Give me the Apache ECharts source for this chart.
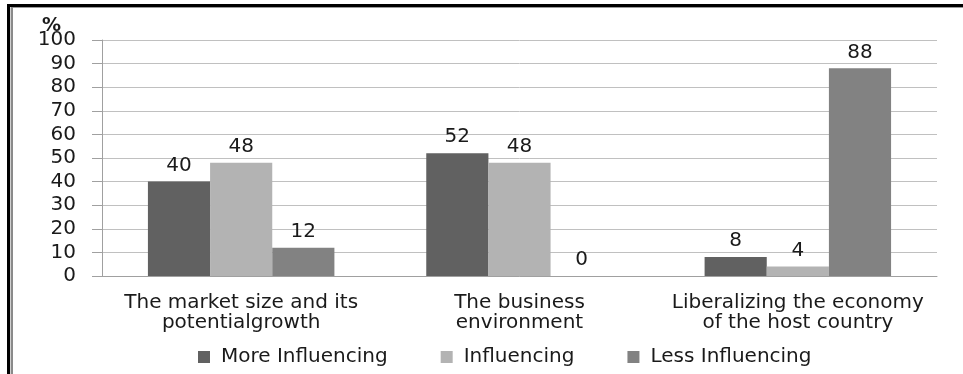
<!DOCTYPE html>
<html>
<head>
<meta charset="utf-8">
<script src="https://cdn.jsdelivr.net/npm/echarts@6/dist/echarts.min.js"></script>
<style>html,body{margin:0;padding:0;background:#fff}#c{width:963px;height:374px}</style>
</head>
<body>
<div id="c"></div>
<script>
var categories = ["The market size and its\npotentialgrowth", "The business\nenvironment", "Liberalizing the economy\nof the host country"];
var seriesNames = ["More Influencing", "Influencing", "Less Influencing"];
var moreInfluencing = [40, 52, 8];
var influencing = [48, 48, 4];
var lessInfluencing = [12, 0, 88];
var yTicks = [0, 10, 20, 30, 40, 50, 60, 70, 80, 90, 100];
var colors = ["#616161", "#b3b3b3", "#828282"];
var FONT = "DejaVu Sans";

var chart = echarts.init(document.getElementById('c'), null, {renderer: 'canvas'});
var dataSets = [moreInfluencing, influencing, lessInfluencing];
var series = dataSets.map(function (d, i) {
  return {
    name: seriesNames[i], type: 'bar', data: d,
    barGap: '0%', barCategoryGap: '33%',
    itemStyle: {color: colors[i]},
    label: {show: true, position: 'top', distance: 6, color: '#1a1a1a', fontFamily: FONT, fontSize: 20}
  };
});
chart.setOption({
  animation: false,
  title: {text: '%', left: 37, top: 12, textStyle: {fontFamily: FONT, fontSize: 19, fontWeight: 'bold', color: '#1a1a1a'}},
  legend: {
    data: seriesNames, left: 193, top: 342, itemWidth: 12, itemHeight: 12, itemGap: 53, icon: 'rect',
    textStyle: {fontFamily: FONT, fontSize: 20, color: '#1a1a1a', padding: [0, 0, 0, 6]}
  },
  grid: {left: 102, right: 26, top: 40, bottom: 98, containLabel: false},
  xAxis: {
    type: 'category', data: categories,
    axisLine: {lineStyle: {color: '#a0a0a0', width: 1}},
    axisTick: {show: false},
    axisLabel: {fontFamily: FONT, fontSize: 20, color: '#1a1a1a', margin: 17, lineHeight: 20, interval: 0}
  },
  yAxis: {
    type: 'value', min: yTicks[0], max: yTicks[yTicks.length - 1], interval: 10,
    axisLine: {show: true, lineStyle: {color: '#a0a0a0'}},
    axisTick: {show: true, inside: false, length: 10, lineStyle: {color: '#a0a0a0'}},
    axisLabel: {fontFamily: FONT, fontSize: 20, color: '#1a1a1a', margin: 26},
    splitLine: {lineStyle: {color: '#c0c0c0'}}
  },
  graphic: [
    {type: 'rect', shape: {x: 7, y: 4, width: 956, height: 3}, style: {fill: '#000'}},
    {type: 'rect', shape: {x: 7, y: 7, width: 956, height: 1}, style: {fill: '#9a9a9a'}},
    {type: 'rect', shape: {x: 7, y: 4, width: 3, height: 370}, style: {fill: '#000'}},
    {type: 'rect', shape: {x: 10, y: 7, width: 1, height: 367}, style: {fill: '#d0d0d0'}},
    {type: 'rect', shape: {x: 11, y: 7, width: 2, height: 367}, style: {fill: '#8a8a8a'}}
  ],
  series: series
});
</script>
</body>
</html>
